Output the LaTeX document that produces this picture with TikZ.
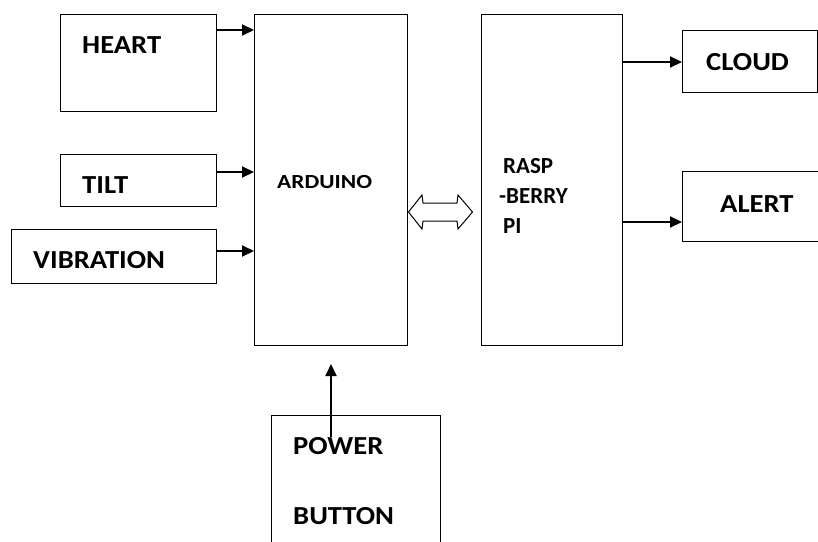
\documentclass[tikz,border=0pt]{standalone}
\usepackage{fontspec}
\setmainfont{Carlito}
\usetikzlibrary{arrows.meta}
\tikzset{
  blk/.style={draw, line width=1.2pt, minimum width=0pt, minimum height=0pt, inner sep=0pt, anchor=north west},
  lbl/.style={anchor=base west, inner sep=0pt, xscale=1.1, font=\fontsize{26}{30}\selectfont\bfseries},
  smlbl/.style={anchor=base west, inner sep=0pt, font=\fontsize{23}{27}\selectfont\bfseries},
  conn/.style={line width=2pt, -{Triangle[length=12pt,width=11pt]}},
  hollow/.style={draw, line width=1pt, line join=miter},
}
\begin{document}
\begin{tikzpicture}[x=1pt,y=-1pt]
\useasboundingbox (0,0) rectangle (818,541);
\clip (0,0) rectangle (818,541);
% boxes
\node[blk, minimum width=156pt, minimum height=97pt] (heart) at (60,14) {};
\node[blk, minimum width=156pt, minimum height=52pt] (tilt) at (60,154) {};
\node[blk, minimum width=205pt, minimum height=54pt] (vib) at (11,229) {};
\node[blk, minimum width=153pt, minimum height=331pt] (ard) at (254,14) {};
\node[blk, minimum width=141pt, minimum height=331pt] (rpi) at (481,14) {};
\node[blk, minimum width=135pt, minimum height=62pt] (cloud) at (682,30) {};
\node[blk, minimum width=160pt, minimum height=70pt] (alert) at (682,171) {};
\node[blk, minimum width=169pt, minimum height=150pt] (power) at (271,415) {};
% labels
\node[lbl] (tHeart) at (82,53) {HEART};
\node[lbl] (tTilt) at (82,193) {TILT};
\node[lbl] (tVib) at (33,268) {VIBRATION};
\node[smlbl, xscale=1.17, font=\fontsize{20}{24}\selectfont\bfseries] (tArd) at (277,188) {ARDUINO};
\node[smlbl] (tR1) at (503,173) {RASP};
\node[smlbl] (tR2) at (499,203) {-BERRY};
\node[smlbl] (tR3) at (503,233) {PI};
\node[lbl] (tCloud) at (706,70) {CLOUD};
\node[lbl] (tAlert) at (720,212) {ALERT};
\node[lbl] (tPower) at (293,454) {POWER};
\node[lbl] (tButton) at (293,524) {BUTTON};
% connectors
\draw[conn] (heart.east |- 0,30) -- (ard.west |- 0,30);
\draw[conn] (tilt.east |- 0,172) -- (ard.west |- 0,172);
\draw[conn] (vib.east |- 0,251) -- (ard.west |- 0,251);
\draw[conn] (rpi.east |- 0,62) -- (cloud.west |- 0,62);
\draw[conn] (rpi.east |- 0,222) -- (alert.west |- 0,222);
\coordinate (pwrTail) at (331,437);
\coordinate (pwrTip) at (331,364);
\draw[conn] (pwrTail) -- (pwrTip);
% bidirectional hollow arrow between ARDUINO and RASPBERRY PI
\coordinate (linkL) at (408.5,212);
\coordinate (linkR) at (472.5,212);
\draw[hollow] (linkL) -- (422,195) -- (423,203) -- (457,203) -- (458,195)
  -- (linkR) -- (458,229) -- (457,221) -- (423,221) -- (422,229) -- cycle;
\end{tikzpicture}
\end{document}
